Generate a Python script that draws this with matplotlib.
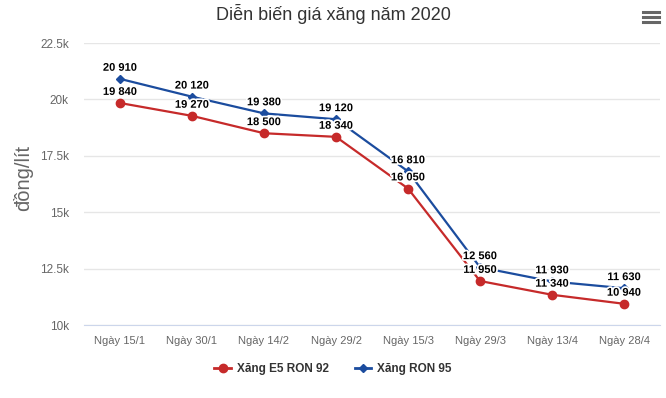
import matplotlib.pyplot as plt
import matplotlib.patheffects as pe
from matplotlib.lines import Line2D

plt.rcParams['font.family'] = ['Liberation Sans', 'DejaVu Sans']

dates = ['Ngày 15/1', 'Ngày 30/1', 'Ngày 14/2', 'Ngày 29/2',
         'Ngày 15/3', 'Ngày 29/3', 'Ngày 13/4', 'Ngày 28/4']
e5_ron92 = [19840, 19270, 18500, 18340, 16050, 11950, 11340, 10940]
ron95 = [20910, 20120, 19380, 19120, 16810, 12560, 11930, 11630]
y_ticks = [10000, 12500, 15000, 17500, 20000, 22500]
y_tick_labels = ['10k', '12.5k', '15k', '17.5k', '20k', '22.5k']

red = '#c62a2a'
blue = '#1b4c9e'

fig = plt.figure(figsize=(6.66, 3.98), dpi=100)
ax = fig.add_axes([84 / 666, 73 / 398, 576 / 666, 282 / 398])

x = range(len(dates))
ax.plot(x, e5_ron92, color=red, lw=1.6, marker='o', ms=6, zorder=3)
ax.plot(x, ron95, color=blue, lw=1.6, marker='D', ms=4, zorder=4)

outline = [pe.withStroke(linewidth=2.5, foreground='white')]
for series in (e5_ron92, ron95):
    for i, v in enumerate(series):
        ax.annotate(f'{v:,}'.replace(',', ' '), (i, v), xytext=(0, 8),
                    textcoords='offset points', ha='center', va='center',
                    fontsize=8, fontweight='bold', color='black',
                    path_effects=outline, zorder=6)

ax.set_xlim(-0.5, len(dates) - 0.5)
ax.set_ylim(10000, 22500)
ax.set_yticks(y_ticks)
ax.set_yticklabels(y_tick_labels)
ax.set_xticks(list(x))
ax.set_xticklabels(dates)
ax.grid(axis='y', color='#e6e6e6', lw=1)
ax.set_axisbelow(True)
for s in ['top', 'right', 'left']:
    ax.spines[s].set_visible(False)
ax.spines['bottom'].set_color('#ccd6eb')
ax.tick_params(axis='y', length=0, labelsize=8.5, labelcolor='#666666', pad=11)
ax.tick_params(axis='x', length=0, labelsize=8, labelcolor='#666666', pad=8)
ax.set_ylabel('đồng/lít', fontsize=14.5, color='#666666')
ax.yaxis.set_label_coords(-51 / 576, 0.52)

fig.text(0.5, 1 - 14 / 398, 'Diễn biến giá xăng năm 2020', ha='center',
         va='center', fontsize=13, color='#333333')

# hamburger menu icon
for yy in [12, 17, 22]:
    fig.add_artist(Line2D([643 / 666, 659 / 666], [1 - yy / 398] * 2,
                          color='#666666', lw=2.2))

handles = [
    Line2D([], [], color=red, lw=2, marker='o', ms=6),
    Line2D([], [], color=blue, lw=2, marker='D', ms=4),
]
fig.legend(handles, ['Xăng E5 RON 92', 'Xăng RON 95'], loc='center',
           bbox_to_anchor=(0.5, 1 - 369 / 398), ncol=2, frameon=False,
           prop={'size': 8.5, 'weight': 'bold'}, labelcolor='#333333',
           handlelength=1.4, columnspacing=2.2, handletextpad=0.5)

fig.savefig('out.png', dpi=100)
